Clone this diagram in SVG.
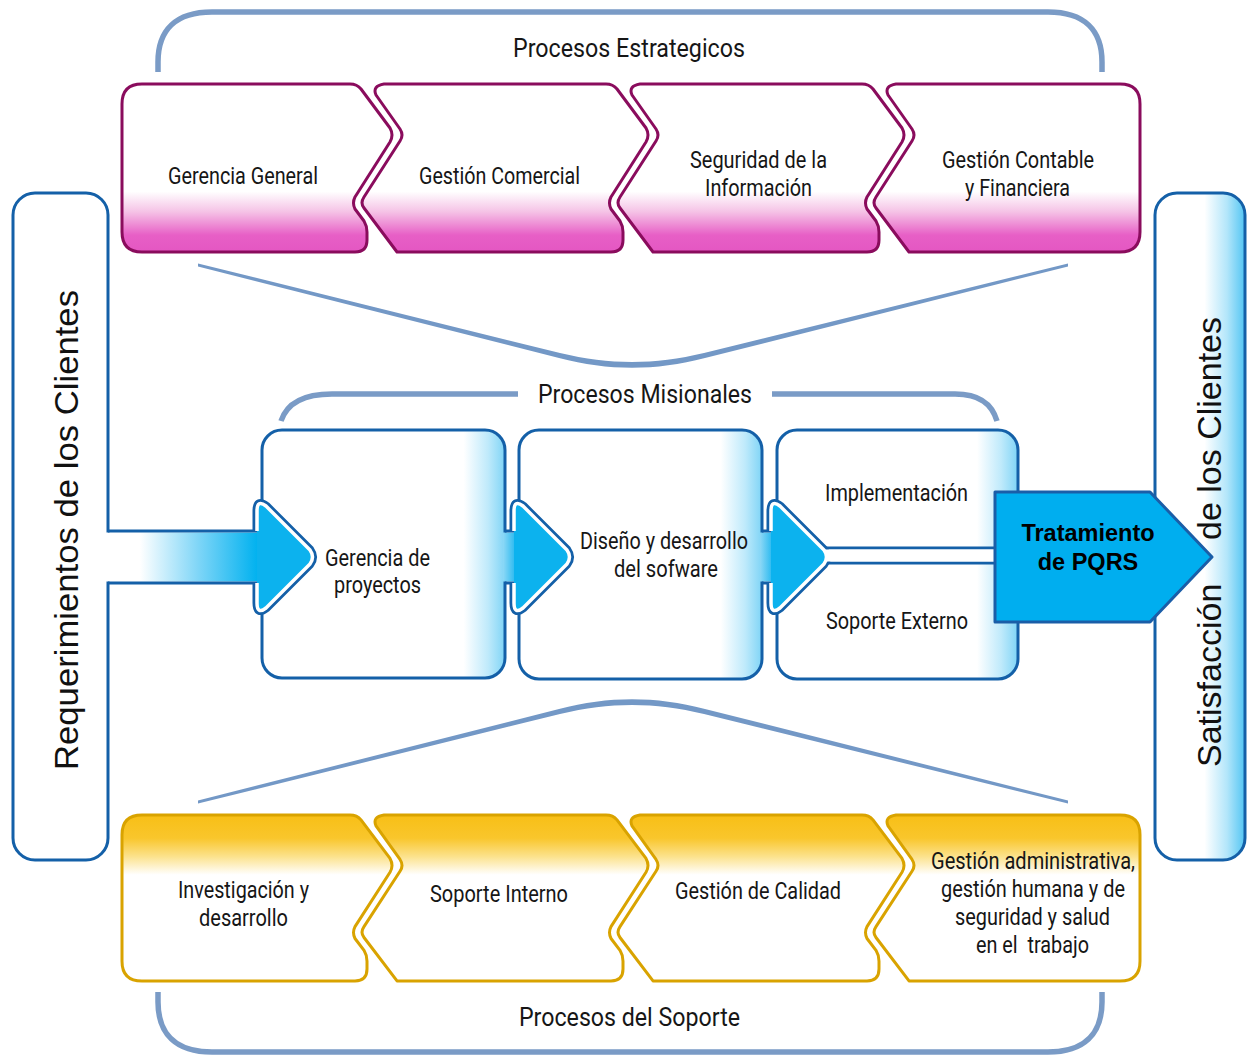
<svg xmlns="http://www.w3.org/2000/svg" width="1248" height="1057" viewBox="0 0 1248 1057">
<style>
.bracket{fill:none;stroke:#7a9bc6;stroke-width:5.5}
.funnel{fill:#7398c6}
.pink{fill:url(#gPink);stroke:#8a0c5d;stroke-width:3;stroke-linejoin:round}
.gold{fill:url(#gGold);stroke:#d9a300;stroke-width:3;stroke-linejoin:round}
.box{fill:url(#gBox);stroke:#1460a8;stroke-width:3}
.bar{stroke:#1460a8;stroke-width:3}
.lbl{font-family:Roboto,"Liberation Sans",sans-serif;font-size:23px;fill:#161616}
.hdr{font-size:26px}
.side{font-family:"Liberation Sans",Arial,sans-serif;font-size:34px;fill:#111}
.pq{font-family:"Liberation Sans",Arial,sans-serif;font-weight:bold;font-size:23.5px;fill:#000;text-anchor:middle}
.edge{stroke:#1460a8;stroke-width:3;fill:none}
.hring{fill:none;stroke:#1460a8;stroke-width:9;stroke-linejoin:round}
.hfill{fill:#0cb2ee}
.hwhite{fill:none;stroke:#fff;stroke-width:3.5;stroke-linejoin:round}
</style>
<defs>
  <linearGradient id="gPink" x1="0" y1="0" x2="0" y2="1">
    <stop offset="0" stop-color="#fff"/><stop offset="0.64" stop-color="#fff"/>
    <stop offset="0.76" stop-color="#f5c3e6"/><stop offset="0.9" stop-color="#e75fc6"/>
    <stop offset="1" stop-color="#e457c2"/>
  </linearGradient>
  <linearGradient id="gGold" x1="0" y1="0" x2="0" y2="1">
    <stop offset="0" stop-color="#f8bf16"/><stop offset="0.14" stop-color="#f9c62c"/>
    <stop offset="0.25" stop-color="#fce28c"/><stop offset="0.36" stop-color="#fff"/>
    <stop offset="1" stop-color="#fff"/>
  </linearGradient>
  <linearGradient id="gBox" x1="0" y1="0" x2="1" y2="0">
    <stop offset="0" stop-color="#fff"/><stop offset="0.83" stop-color="#fff"/>
    <stop offset="0.93" stop-color="#bfeafb"/><stop offset="1" stop-color="#7fd4f6"/>
  </linearGradient>
  <linearGradient id="gBar" x1="0" y1="0" x2="1" y2="0">
    <stop offset="0" stop-color="#fff"/><stop offset="0.55" stop-color="#fff"/>
    <stop offset="0.8" stop-color="#b3e6fa"/><stop offset="1" stop-color="#52c5f3"/>
  </linearGradient>
  <linearGradient id="gBand" gradientUnits="userSpaceOnUse" x1="140" y1="0" x2="258" y2="0">
    <stop offset="0" stop-color="#fff"/><stop offset="0.5" stop-color="#7dd5f7"/>
    <stop offset="1" stop-color="#00b1ef"/>
  </linearGradient>
  <linearGradient id="gLink" x1="0" y1="0" x2="1" y2="0">
    <stop offset="0" stop-color="#8dd8f6"/><stop offset="1" stop-color="#2bbaf0"/>
  </linearGradient>

  <!-- chevron outlines for a row spanning y 84..252 -->
  <path id="ch1" d="M142,84 H350 Q357,84 361,89 L390,128 Q394,135 390,142 L355,197 Q352,203 355,209 L364,221 Q367,226 367,232 V240 Q367,252 355,252 H142 Q122,252 122,232 V104 Q122,84 142,84 Z"/>
  <path id="ch2" d="M384,84 H606 Q613,84 617,89 L646,128 Q650,135 646,142 L611,197 Q608,203 611,209 L620,221 Q623,226 623,232 V240 Q623,252 611,252 H397 L364,208 Q360,203 364,197 L400,141 Q404,135 400,129 L376,95 Q372,86 384,84 Z"/>
  <path id="ch3" d="M640,84 H862 Q869,84 873,89 L902,128 Q906,135 902,142 L867,197 Q864,203 867,209 L876,221 Q879,226 879,232 V240 Q879,252 867,252 H653 L620,208 Q616,203 620,197 L656,141 Q660,135 656,129 L632,95 Q628,86 640,84 Z"/>
  <path id="ch4" d="M896,84 H1120 Q1140,84 1140,104 V232 Q1140,252 1120,252 H909 L876,208 Q872,203 876,197 L912,141 Q916,135 912,129 L888,95 Q884,86 896,84 Z"/>

  <!-- arrow head, anchored at its left side / centre line -->
  <path id="hdOpen" d="M0,-26 L0,-46 Q0,-58 9,-51 L53,-7 Q58,0 53,7 L9,51 Q0,58 0,46 L0,26"/>
  <path id="hdShape" d="M0,-26 L0,-46 Q0,-58 9,-51 L53,-7 Q58,0 53,7 L9,51 Q0,58 0,46 L0,26 Z"/>

  <!-- tapered funnel stroke (upper one; lower one is mirrored) -->
  <path id="funnelShape" d="M198,263.5 L560,353 C610,365 654,365 704,353 L1068,263.5 L1068,266.5 L705,358 C655,371 609,371 559,358 L198,266.5 Z"/>
</defs>

<rect width="1248" height="1057" fill="#fff"/>

<!-- section brackets and funnels -->
<g id="frames">
  <path class="bracket" d="M158,72 V62 C158,30 176,12 212,12 H1048 C1084,12 1102,30 1102,62 V72"/>
  <path class="bracket" d="M158,992 V1002 C158,1034 176,1052 212,1052 H1048 C1084,1052 1102,1034 1102,1002 V992"/>
  <path class="bracket" d="M281,421 C287,403 303,394 332,394 H518"/>
  <path class="bracket" d="M772,394 H955 C980,394 992,404 997,421"/>
  <use href="#funnelShape" class="funnel"/>
  <use href="#funnelShape" class="funnel" transform="matrix(1,0,0,-1,0,1067)"/>
  <text class="lbl hdr" x="513" y="57" textLength="232" lengthAdjust="spacingAndGlyphs">Procesos Estrategicos</text>
  <text class="lbl hdr" x="538" y="403" textLength="214" lengthAdjust="spacingAndGlyphs">Procesos Misionales</text>
  <text class="lbl hdr" x="519" y="1026" textLength="221" lengthAdjust="spacingAndGlyphs">Procesos del Soporte</text>
</g>

<!-- side bars -->
<g id="requerimientos">
  <rect class="bar" x="13" y="193" width="95" height="667" rx="22" fill="#fff"/>
  <text class="side" transform="translate(78,770) rotate(-90)" textLength="480" lengthAdjust="spacingAndGlyphs">Requerimientos de los Clientes</text>
</g>
<g id="satisfaccion">
  <rect class="bar" x="1155" y="193" width="90" height="667" rx="22" fill="url(#gBar)"/>
  <text class="side" transform="translate(1221,767) rotate(-90)">Satisfacción <tspan x="227">de los Clientes</tspan></text>
</g>

<!-- strategic processes -->
<g id="gerencia-general">
  <use href="#ch1" class="pink"/>
  <text class="lbl" x="168" y="184" textLength="150" lengthAdjust="spacingAndGlyphs">Gerencia General</text>
</g>
<g id="gestion-comercial">
  <use href="#ch2" class="pink"/>
  <text class="lbl" x="419" y="184" textLength="161" lengthAdjust="spacingAndGlyphs">Gestión Comercial</text>
</g>
<g id="seguridad-informacion">
  <use href="#ch3" class="pink"/>
  <text class="lbl" x="690" y="168" textLength="137" lengthAdjust="spacingAndGlyphs">Seguridad de la</text>
  <text class="lbl" x="705" y="196" textLength="107" lengthAdjust="spacingAndGlyphs">Información</text>
</g>
<g id="gestion-contable">
  <use href="#ch4" class="pink"/>
  <text class="lbl" x="942" y="168" textLength="152" lengthAdjust="spacingAndGlyphs">Gestión Contable</text>
  <text class="lbl" x="965" y="196" textLength="105" lengthAdjust="spacingAndGlyphs">y Financiera</text>
</g>

<!-- support processes (same outlines, lower row) -->
<g id="investigacion">
  <use href="#ch1" class="gold" transform="matrix(1,0,0,0.988,0,732)"/>
  <text class="lbl" x="178" y="898" textLength="131" lengthAdjust="spacingAndGlyphs">Investigación y</text>
  <text class="lbl" x="199" y="926" textLength="89" lengthAdjust="spacingAndGlyphs">desarrollo</text>
</g>
<g id="soporte-interno">
  <use href="#ch2" class="gold" transform="matrix(1,0,0,0.988,0,732)"/>
  <text class="lbl" x="430" y="902" textLength="138" lengthAdjust="spacingAndGlyphs">Soporte Interno</text>
</g>
<g id="gestion-calidad">
  <use href="#ch3" class="gold" transform="matrix(1,0,0,0.988,0,732)"/>
  <text class="lbl" x="675" y="899" textLength="166" lengthAdjust="spacingAndGlyphs">Gestión de Calidad</text>
</g>
<g id="gestion-administrativa">
  <use href="#ch4" class="gold" transform="matrix(1,0,0,0.988,0,732)"/>
  <text class="lbl" x="931" y="869" textLength="204" lengthAdjust="spacingAndGlyphs">Gestión administrativa,</text>
  <text class="lbl" x="941" y="897" textLength="184" lengthAdjust="spacingAndGlyphs">gestión humana y de</text>
  <text class="lbl" x="955" y="925" textLength="155" lengthAdjust="spacingAndGlyphs">seguridad y salud</text>
  <text class="lbl" x="976" y="953" textLength="113" lengthAdjust="spacingAndGlyphs" style="white-space:pre">en el  trabajo</text>
</g>

<!-- mission processes -->
<g id="gerencia-proyectos">
  <rect class="box" x="262" y="430" width="243" height="248" rx="20"/>
  <text class="lbl" x="325" y="566" textLength="105" lengthAdjust="spacingAndGlyphs">Gerencia de</text>
  <text class="lbl" x="334" y="593" textLength="87" lengthAdjust="spacingAndGlyphs">proyectos</text>
</g>
<g id="diseno-desarrollo">
  <rect class="box" x="519" y="430" width="243" height="249" rx="20"/>
  <text class="lbl" x="580" y="549" textLength="168" lengthAdjust="spacingAndGlyphs">Diseño y desarrollo</text>
  <text class="lbl" x="614" y="577" textLength="104" lengthAdjust="spacingAndGlyphs">del sofware</text>
</g>
<g id="implementacion">
  <rect class="box" x="777" y="430" width="241" height="118" rx="20"/>
  <text class="lbl" x="825" y="501" textLength="143" lengthAdjust="spacingAndGlyphs">Implementación</text>
</g>
<g id="soporte-externo">
  <rect class="box" x="777" y="563" width="241" height="116" rx="20"/>
  <text class="lbl" x="826" y="629" textLength="142" lengthAdjust="spacingAndGlyphs">Soporte Externo</text>
</g>

<!-- flow arrows -->
<g id="connectors">
  <rect x="106" y="532.5" width="152" height="49" fill="url(#gBand)"/>
  <rect x="503" y="532.5" width="12" height="49" fill="url(#gLink)"/>
  <rect x="760" y="532.5" width="12" height="49" fill="url(#gLink)"/>
  <path class="edge" d="M108,531 H258 M108,583 H258 M505,531 H515 M505,583 H515 M762,531 H772 M762,583 H772"/>
  <use href="#hdOpen" class="hring" x="257" y="557"/>
  <use href="#hdOpen" class="hring" x="514" y="557"/>
  <use href="#hdOpen" class="hring" x="771" y="557"/>
  <rect x="815" y="549.5" width="182" height="12" fill="#fff"/>
  <use href="#hdShape" class="hfill" x="257" y="557"/>
  <use href="#hdShape" class="hfill" x="514" y="557"/>
  <use href="#hdShape" class="hfill" x="771" y="557"/>
  <use href="#hdOpen" class="hwhite" x="257" y="557"/>
  <use href="#hdOpen" class="hwhite" x="514" y="557"/>
  <use href="#hdOpen" class="hwhite" x="771" y="557"/>
</g>

<g id="tratamiento-pqrs">
  <path d="M995,492 H1150 L1212,557 L1150,622 H995 Z" fill="#00aeef" stroke="#1a5ea8" stroke-width="3" stroke-linejoin="round"/>
  <text class="pq" x="1088" y="541">Tratamiento</text>
  <text class="pq" x="1088" y="570">de PQRS</text>
</g>
</svg>
